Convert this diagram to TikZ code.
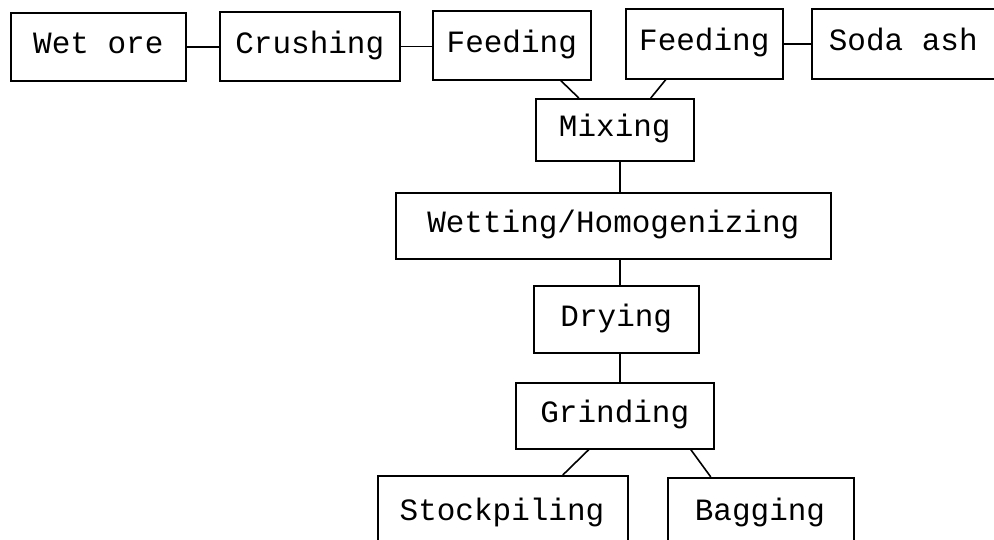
\documentclass[tikz,border=0pt]{standalone}
\usepackage{fontspec}
\setmonofont{Liberation Mono}
\usetikzlibrary{calc}
\tikzset{
  box/.style={draw, line width=1.6pt, inner sep=0pt, anchor=north west,
    font=\ttfamily\fontsize{31}{36}\selectfont, text height=20pt, text depth=6pt},
  link/.style={line width=1.6pt}
}
\newcommand{\bx}[6]{% name, x1, y1, x2, y2, text
  \node[box, minimum width={(#4-#2)*1pt}, minimum height={(#5-#3)*1pt}] (#1) at (#2pt,-#3pt) {#6};}
\begin{document}
\begin{tikzpicture}
\useasboundingbox (0,0) rectangle (994pt,-539pt);
\clip (0,0) rectangle (994pt,-539pt);
\bx{wet}{10}{12}{185}{80}{Wet ore}
\bx{cru}{219}{11}{399}{80}{Crushing}
\bx{fa}{432}{10}{590}{79}{Feeding}
\bx{fb}{625}{8}{782}{78}{Feeding}
\bx{soda}{811}{8}{1060}{78}{\hspace*{-66pt}Soda ash}
\bx{mix}{535}{98}{693}{160}{Mixing}
\bx{wtg}{395}{192}{830}{258}{Wetting/Homogenizing}
\bx{dry}{533}{285}{698}{352}{Drying}
\bx{gri}{515}{382}{713}{448}{Grinding}
\bx{sto}{377}{475}{627}{620}{\raisebox{0pt}{}}
\bx{bag}{667}{477}{853}{620}{}
\node[font=\ttfamily\fontsize{31}{36}\selectfont] (stot) at (502pt,-512pt) {Stockpiling};
\node[font=\ttfamily\fontsize{31}{36}\selectfont] (bagt) at (760pt,-512pt) {Bagging};
\draw[link] (wet.east) -- (wet.east -| cru.west);
\draw[link] (cru.east) -- (cru.east -| fa.west);
\draw[link] (fb.east) -- (fb.east -| soda.west);
\draw[link] ($(fa.south)+(49pt,0)$) -- ($(mix.north)+(-36pt,0)$);
\draw[link] ($(fb.south)+(-38.5pt,0)$) -- ($(mix.north)+(36pt,0)$);
\draw[link] ([xshift=5pt]mix.south) -- ([xshift=5pt]mix.south |- wtg.north);
\draw[link] ([xshift=5pt]mix.south |- wtg.south) -- ([xshift=5pt]mix.south |- dry.north);
\draw[link] ([xshift=5pt]mix.south |- dry.south) -- ([xshift=5pt]mix.south |- gri.north);
\draw[link] ($(gri.south)+(-26pt,0)$) -- ($(sto.north)+(60pt,0)$);
\draw[link] ($(gri.south)+(76pt,0)$) -- ($(bag.north)+(-50pt,0)$);
\end{tikzpicture}
\end{document}
